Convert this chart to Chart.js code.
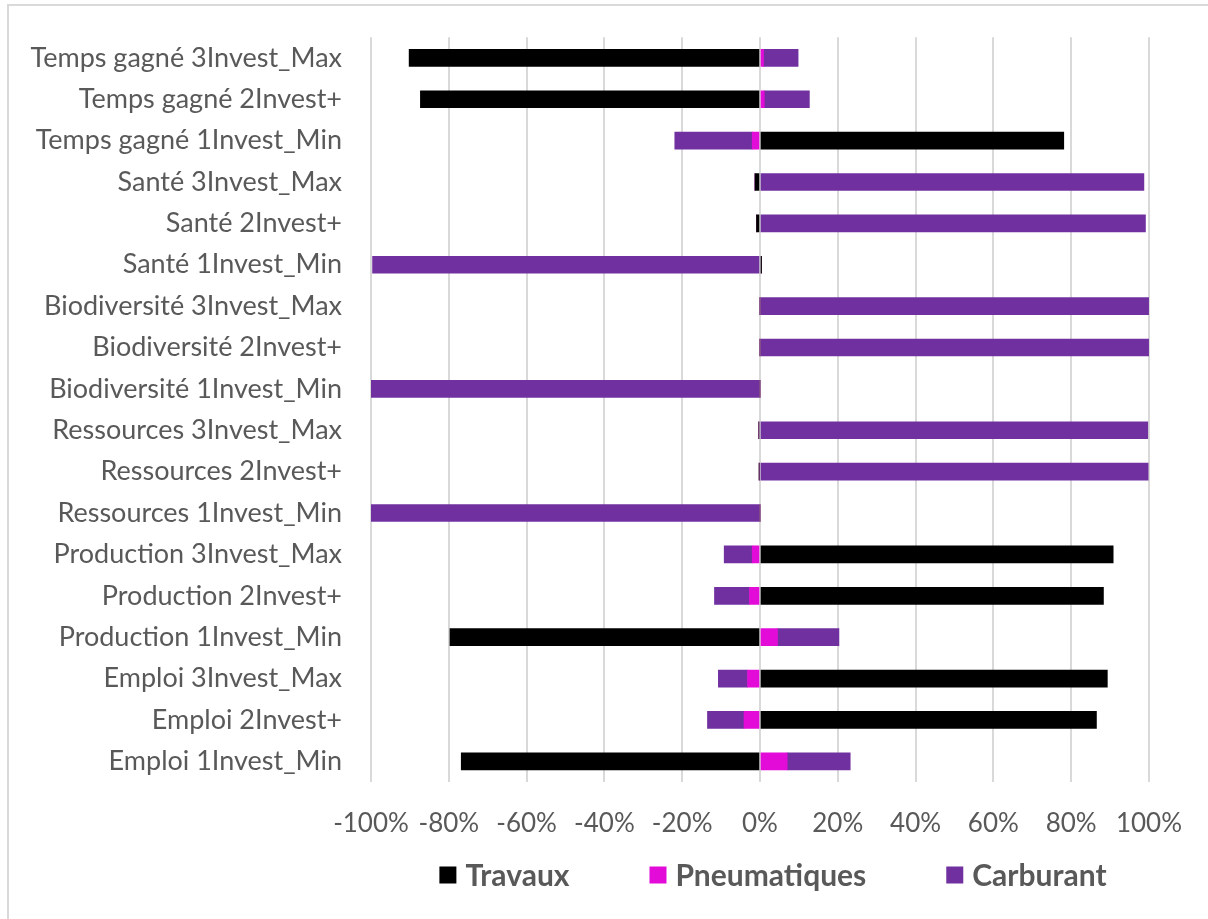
<!DOCTYPE html>
<html>
<head>
<meta charset="utf-8">
<script src="https://cdn.jsdelivr.net/npm/chart.js@4.4.1/dist/chart.umd.min.js"></script>
<style>
  body { margin: 0; background: #fff; overflow: hidden; }
  #frame { position: absolute; left: 7px; top: 4px; width: 1300px; height: 1000px; border: 2px solid #d9d9d9; }
  #chartContainer { position: absolute; left: 0; top: 0; width: 1208px; height: 919px; }
</style>
</head>
<body>
<div id="frame"></div>
<div id="chartContainer"><canvas id="impactChart"></canvas></div>
<script>
        var categories = [
          'Temps gagné 3Invest_Max', 'Temps gagné 2Invest+', 'Temps gagné 1Invest_Min',
          'Santé 3Invest_Max', 'Santé 2Invest+', 'Santé 1Invest_Min',
          'Biodiversité 3Invest_Max', 'Biodiversité 2Invest+', 'Biodiversité 1Invest_Min',
          'Ressources 3Invest_Max', 'Ressources 2Invest+', 'Ressources 1Invest_Min',
          'Production 3Invest_Max', 'Production 2Invest+', 'Production 1Invest_Min',
          'Emploi 3Invest_Max', 'Emploi 2Invest+', 'Emploi 1Invest_Min'
        ];
        // values in %
        var travaux      = [-90.2, -87.3, 78.1, -1.3, -0.9, 0.4, 0, 0, 0, -0.3, -0.2, 0, 90.8, 88.3, -79.7, 89.3, 86.5, -76.8];
        var pneumatiques = [0.9, 1.1, -2.0, 0, 0, 0, 0, 0, 0, 0, 0, 0, -2.0, -2.7, 4.5, -3.2, -4.1, 7.0];
        var carburant    = [8.9, 11.6, -19.9, 98.7, 99.1, -99.6, 100, 100, -100, 99.7, 99.8, -100, -7.2, -9.0, 15.8, -7.5, -9.4, 16.2];
        var xTicks = [-100, -80, -60, -40, -20, 0, 20, 40, 60, 80, 100];

        var textColor = '#595959';
        var fontFamily = 'Lato, "Liberation Sans", sans-serif';

        // legend drawn under the axis, spaced like the original
        var bottomLegend = {
          id: 'bottomLegend',
          afterDraw: function (chart) {
            var ctx = chart.ctx;
            var box = 17, gap = 9, spacing = 80;
            ctx.save();
            ctx.font = 'bold 30px ' + fontFamily;
            ctx.textBaseline = 'middle';
            var widths = chart.data.datasets.map(function (ds) { return ctx.measureText(ds.label).width; });
            var total = 0;
            widths.forEach(function (w) { total += box + gap + w; });
            total += spacing * (widths.length - 1);
            var x = (chart.chartArea.left + chart.chartArea.right) / 2 + 13 - total / 2;
            var y = 875;
            chart.data.datasets.forEach(function (ds, i) {
              ctx.fillStyle = ds.backgroundColor;
              ctx.fillRect(x, y - box / 2, box, box);
              ctx.fillStyle = textColor;
              ctx.fillText(ds.label, x + box + gap, y + 1);
              x += box + gap + widths[i] + spacing;
            });
            ctx.restore();
          }
        };

        var impactConfig = {
          type: 'bar',
          data: {
            labels: categories,
            datasets: [
              { label: 'Travaux', backgroundColor: '#000000', barThickness: 17, data: travaux },
              { label: 'Pneumatiques', backgroundColor: '#E20BD8', barThickness: 17, data: pneumatiques },
              { label: 'Carburant', backgroundColor: '#7030A0', barThickness: 17, data: carburant }
            ]
          },
          options: {
            indexAxis: 'y',
            responsive: true,
            maintainAspectRatio: false,
            animation: false,
            layout: { padding: { left: 0, right: 59, top: 21, bottom: 87 } },
            plugins: {
              legend: { display: false },
              tooltip: { enabled: false }
            },
            scales: {
              x: {
                stacked: true,
                min: -100,
                max: 100,
                afterBuildTicks: function (scale) {
                  scale.ticks = xTicks.map(function (v) { return { value: v }; });
                },
                afterFit: function (scale) { scale.height = 50; },
                grid: { color: '#d9d9d9', lineWidth: 2, drawTicks: false },
                border: { display: false },
                ticks: {
                  padding: 26,
                  color: textColor,
                  autoSkip: false,
                  font: { family: fontFamily, size: 26 },
                  maxRotation: 0,
                  callback: function (v) { return v + '%'; }
                }
              },
              y: {
                stacked: true,
                afterFit: function (scale) { scale.width = 371; },
                grid: { display: false },
                border: { display: false },
                ticks: {
                  padding: 21,
                  color: textColor,
                  autoSkip: false,
                  font: { family: fontFamily, size: 27 }
                }
              }
            }
          },
          plugins: [bottomLegend]
        };

        var ctx = document.getElementById('impactChart').getContext('2d');
        var impactChart = new Chart(ctx, impactConfig);
</script>
</body>
</html>
